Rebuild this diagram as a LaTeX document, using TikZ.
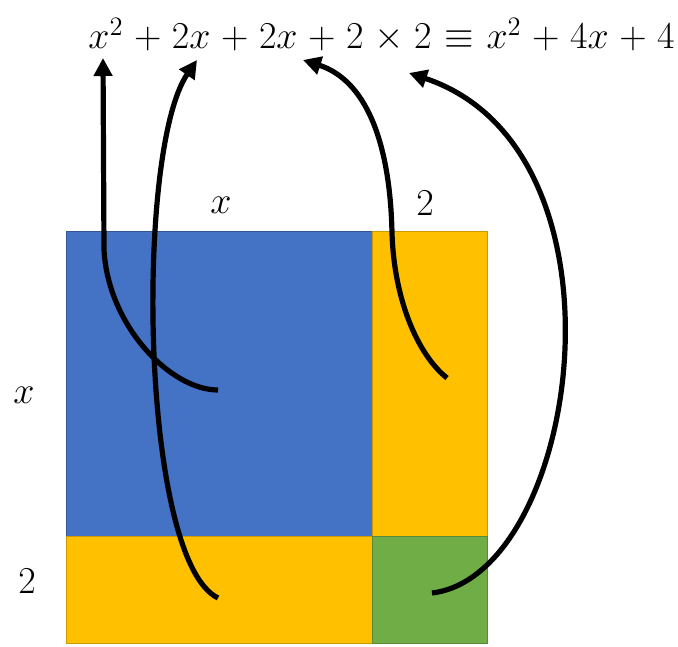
\RequirePackage{fix-cm}
\documentclass[tikz,border=0pt]{standalone}
\usepackage{amsmath,amssymb}
\usepackage{xcolor}
\usetikzlibrary{arrows.meta}

\definecolor{tileblue}{HTML}{4472C4}
\definecolor{tileorange}{HTML}{FFC000}
\definecolor{tilegreen}{HTML}{70AD47}

\tikzset{
  tile/.style={line width=0.5pt},
  termarrow/.style={line width=2.6pt, -{Triangle[length=9pt,width=9pt]}},
  biglabel/.style={font=\fontsize{19}{22}\selectfont, inner sep=0pt}
}

\begin{document}
\begin{tikzpicture}[x=0.5pt, y=-0.5pt]
    \useasboundingbox (0,0) rectangle (678,646);

    % Tiles: x by x, x by 2, 2 by x, 2 by 2
    \filldraw[tile, fill=tileblue, draw=tileblue!75!black] (66,232) rectangle (372,536);
    \filldraw[tile, fill=tileorange, draw=tileorange!80!black] (372,232) rectangle (487,536);
    \filldraw[tile, fill=tileorange, draw=tileorange!80!black] (66,536) rectangle (372,643);
    \filldraw[tile, fill=tilegreen, draw=tilegreen!80!black] (372,536) rectangle (487,643);

    % Side lengths
    \node[biglabel] (topx) at (221,205) {$x$};
    \node[biglabel] (toptwo) at (425,203) {$2$};
    \node[biglabel] (leftx) at (24,395) {$x$};
    \node[biglabel] (lefttwo) at (27,581) {$2$};

    % Expansion
    \node[biglabel, anchor=base west] (expansion) at (88,49)
      {$\medmuskip=5mu \thickmuskip=6mu
        x^2 + 2x + 2x + 2 \times 2 \equiv x^2 + 4x + 4$};

    % Arrow ends
    \coordinate (fromxx) at (218,390);
    \coordinate (fromtwox) at (218,598);
    \coordinate (fromxtwo) at (447,378);
    \coordinate (fromtwotwo) at (432,593);
    \coordinate (tosquare) at (103,58);
    \coordinate (tofirst) at (197,60);
    \coordinate (tosecond) at (303,60);
    \coordinate (toconst) at (409,73);

    % Arrows
    \draw[termarrow] (fromxx) .. controls (170,390) and (108,325) .. (104,250) -- (tosquare);
    \draw[termarrow] (fromtwox) .. controls (140,560) and (135,150) .. (tofirst);
    \draw[termarrow] (fromxtwo) .. controls (418,355) and (394,300) .. (392,233)
                     .. controls (390,140) and (365,80) .. (tosecond);
    \draw[termarrow] (fromtwotwo) .. controls (580,575) and (640,150) .. (toconst);
\end{tikzpicture}
\end{document}
